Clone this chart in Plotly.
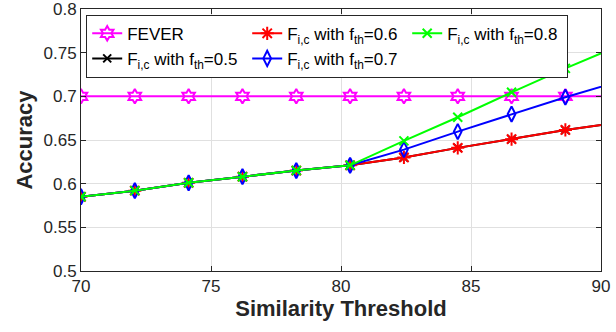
import plotly.graph_objects as go

x_vals = [70.0, 72.07, 74.14, 76.21, 78.28, 80.35, 82.42, 84.49, 86.56, 88.63, 90.7]
fever = [0.70, 0.70, 0.70, 0.70, 0.70, 0.70, 0.70, 0.70, 0.70, 0.70, 0.70]
fth_05 = [0.585, 0.592, 0.601, 0.608, 0.615, 0.621, 0.630, 0.641, 0.651, 0.6615, 0.670]
fth_06 = [0.585, 0.592, 0.601, 0.608, 0.615, 0.621, 0.630, 0.641, 0.651, 0.6615, 0.670]
fth_07 = [0.585, 0.592, 0.601, 0.608, 0.615, 0.621, 0.639, 0.6596, 0.6797, 0.699, 0.717]
fth_08 = [0.585, 0.592, 0.601, 0.608, 0.615, 0.621, 0.649, 0.676, 0.7046, 0.732, 0.758]

x_ticks = [70, 75, 80, 85, 90]
y_ticks = [0.5, 0.55, 0.6, 0.65, 0.7, 0.75, 0.8]

FONT = "Liberation Sans, Arial, sans-serif"

series = [
    ("FEVER", fever, "#FF00FF", "hexagram-open", 11, 1),
    ("F<sub>i,c</sub> with f<sub>th</sub>=0.5", fth_05, "#000000", "x-thin-open", 8, 4),
    ("F<sub>i,c</sub> with f<sub>th</sub>=0.6", fth_06, "#FF0000", "asterisk-open", 11, 2),
    ("F<sub>i,c</sub> with f<sub>th</sub>=0.7", fth_07, "#0000FF", "diamond-tall-open", 11, 5),
    ("F<sub>i,c</sub> with f<sub>th</sub>=0.8", fth_08, "#00FF00", "x-thin-open", 9, 3),
]

fig = go.Figure()
for name, ys, color, sym, size, rank in series:
    fig.add_trace(go.Scatter(
        x=x_vals, y=ys, name=name, mode="lines+markers",
        line=dict(color=color, width=2),
        marker=dict(symbol=sym, size=size, color=color,
                    line=dict(color=color, width=2)),
        legendrank=rank,
    ))

axis_common = dict(
    showgrid=True, gridcolor="#E0E0E0", gridwidth=1,
    showline=True, linecolor="#262626", linewidth=1, mirror="ticks",
    ticks="inside", ticklen=5, tickcolor="#262626",
    tickfont=dict(family=FONT, size=17, color="#262626"),
    ticklabeloverflow="allow",
    zeroline=False, automargin=False,
)

fig.update_layout(
    template="none",
    width=616, height=332,
    margin=dict(l=81, r=15, t=9, b=61, pad=0),
    paper_bgcolor="white", plot_bgcolor="white",
    font=dict(family=FONT, color="#262626"),
    xaxis=dict(range=[70, 90], tickvals=x_ticks,
               title=dict(text="<b>Similarity Threshold</b>", font=dict(family=FONT, size=22, color="#262626"), standoff=2),
               **axis_common),
    yaxis=dict(range=[0.5, 0.8], tickvals=y_ticks, ticktext=[str(v) for v in y_ticks],
               title=dict(text="<b>Accuracy</b>", font=dict(family=FONT, size=22, color="#262626"), standoff=4),
               **axis_common),
    legend=dict(
        orientation="h", x=0.01, y=0.978, xanchor="left", yanchor="top",
        entrywidth=115, entrywidthmode="pixels",
        bgcolor="white", bordercolor="#262626", borderwidth=1,
        font=dict(family=FONT, size=17, color="#000000"),
        itemwidth=30, tracegroupgap=0,
    ),
    showlegend=True,
)

fig.write_html("out.html", config={"displayModeBar": False},
               post_script="document.body.style.margin='0';")
